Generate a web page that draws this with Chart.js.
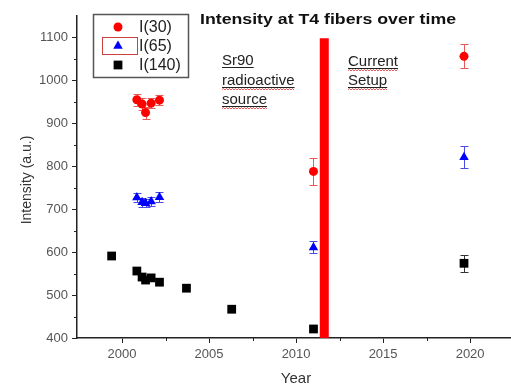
<!DOCTYPE html>
<html>
<head>
<meta charset="utf-8">
<script src="https://cdn.jsdelivr.net/npm/chart.js@4.4.1/dist/chart.umd.min.js"></script>
<style>
  html, body { margin: 0; padding: 0; background: #fff; }
</style>
</head>
<body>
<canvas id="chart" width="511" height="385"></canvas>
<script>
// ===== values
const years = [2000.85, 2001.15, 2001.35, 2001.67, 2002.15, 2011.0, 2019.65];
const i30 = [955, 945, 925, 947, 954, 788, 1056];
const i30Err = [14, 14, 14, 12, 12, 31, 28];
const i65 = [727, 716, 714, 718, 728, 611, 821];
const i65Err = [10, 10, 10, 10, 12, 14, 26];
const years140 = [1999.4, 2000.85, 2001.15, 2001.35, 2001.67, 2002.15, 2003.7, 2006.3, 2011.0, 2019.65];
const i140 = [591, 556, 542, 535, 540, 530, 516, 467, 421, 574];
const i140Err = [0, 0, 0, 0, 0, 0, 0, 0, 0, 20];

const xTicks = [2000, 2005, 2010, 2015, 2020];
const xMinor = [2002.5, 2007.5, 2012.5, 2017.5];
const yTicks = [400, 500, 600, 700, 800, 900, 1000, 1100];
const yMinor = [450, 550, 650, 750, 850, 950, 1050];

// red "setup change" marker
const setupYear = [2011.62, 2011.62];
const setupRange = [400, 1098];

const FONT = "'Liberation Sans', Arial, sans-serif";

const toPoints = (xs, ys) => xs.map((x, i) => ({ x: x, y: ys[i] }));

// ===== error bars, drawn under the markers
const errorBars = {
  id: 'errorBars',
  beforeDatasetsDraw(chart) {
    const { ctx, scales: { y } } = chart;
    chart.data.datasets.forEach((ds, i) => {
      if (!ds.errors) return;
      const meta = chart.getDatasetMeta(i);
      ctx.save();
      ctx.strokeStyle = ds.errorColor;
      ctx.lineWidth = 1;
      meta.data.forEach((pt, j) => {
        const e = ds.errors[j];
        if (!e) return;
        const v = ds.data[j].y;
        const top = Math.round(y.getPixelForValue(v + e)) + 0.5;
        const bot = Math.round(y.getPixelForValue(v - e)) + 0.5;
        const px = Math.round(pt.x) + 0.5;
        ctx.beginPath();
        ctx.moveTo(px, top); ctx.lineTo(px, bot);
        ctx.moveTo(px - 4, top); ctx.lineTo(px + 4, top);
        ctx.moveTo(px - 4, bot); ctx.lineTo(px + 4, bot);
        ctx.stroke();
      });
      ctx.restore();
    });
  }
};

// ===== minor ticks, legend, title and notes
function squiggle(ctx, x0, x1, yy) {
  ctx.save();
  ctx.strokeStyle = '#e03030';
  ctx.lineWidth = 0.8;
  ctx.beginPath();
  let up = true;
  ctx.moveTo(x0, yy);
  for (let x = x0 + 1.5; x <= x1; x += 1.5) {
    ctx.lineTo(x, up ? yy - 1 : yy + 0.5);
    up = !up;
  }
  ctx.stroke();
  ctx.restore();
}

function note(ctx, text, x, y, wavy) {
  ctx.fillText(text, x, y);
  const w = ctx.measureText(text).width;
  ctx.fillRect(x, y + 2, w, 1);
  if (wavy) squiggle(ctx, x, x + w, y + 4.5);
}

// text squeezed/stretched to a given width
function fitText(ctx, text, x, y, width) {
  const w = ctx.measureText(text).width;
  ctx.save();
  ctx.translate(x, y);
  ctx.scale(width / w, 1);
  ctx.fillText(text, 0, 0);
  ctx.restore();
}

const decorations = {
  id: 'decorations',
  afterDraw(chart) {
    const { ctx, scales: { x, y }, chartArea } = chart;
    ctx.save();

    // minor ticks
    ctx.strokeStyle = '#222';
    ctx.lineWidth = 1;
    ctx.beginPath();
    xMinor.forEach(v => {
      const px = Math.round(x.getPixelForValue(v)) + 0.5;
      ctx.moveTo(px, chartArea.bottom); ctx.lineTo(px, chartArea.bottom + 3);
    });
    yMinor.forEach(v => {
      const py = Math.round(y.getPixelForValue(v)) + 0.5;
      ctx.moveTo(chartArea.left, py); ctx.lineTo(chartArea.left - 3, py);
    });
    ctx.stroke();

    // title
    ctx.fillStyle = '#111';
    ctx.font = "bold 15px " + FONT;
    ctx.textAlign = 'left';
    ctx.textBaseline = 'alphabetic';
    fitText(ctx, 'Intensity at T4 fibers over time', 200, 24, 256);

    // axis titles
    ctx.fillStyle = '#333';
    ctx.font = "15px " + FONT;
    ctx.textAlign = 'center';
    ctx.fillText('Year', 296, 383);
    ctx.save();
    ctx.translate(27, 180);
    ctx.rotate(-Math.PI / 2);
    ctx.textBaseline = 'middle';
    ctx.font = "14px " + FONT;
    ctx.fillText('Intensity (a.u.)', 0, 0);
    ctx.restore();

    // legend
    ctx.strokeStyle = '#555';
    ctx.lineWidth = 1.5;
    ctx.strokeRect(93.5, 14.5, 95, 63);
    ctx.strokeStyle = '#d04040';
    ctx.lineWidth = 1;
    ctx.strokeRect(102.5, 37.5, 35, 17);
    const rows = [27, 46, 65];
    chart.data.datasets.slice(0, 3).forEach((ds, i) => {
      ctx.fillStyle = ds.backgroundColor;
      Chart.helpers.drawPoint(ctx, {
        pointStyle: ds.pointStyle, radius: ds.pointRadius, rotation: 0, borderWidth: 0
      }, 118, rows[i]);
      ctx.fillStyle = '#222';
      ctx.font = "16px " + FONT;
      ctx.textAlign = 'left';
      ctx.textBaseline = 'middle';
      ctx.fillText(ds.label, 139, rows[i] + 1);
    });

    // notes
    ctx.fillStyle = '#222';
    ctx.font = "15px " + FONT;
    ctx.textAlign = 'left';
    ctx.textBaseline = 'alphabetic';
    note(ctx, 'Sr90', 222, 65, false);
    note(ctx, 'radioactive', 222, 85, true);
    note(ctx, 'source', 222, 104, true);
    note(ctx, 'Current', 348, 66, true);
    note(ctx, 'Setup', 348, 85, true);

    ctx.restore();
  }
};

const ctx = document.getElementById('chart');
new Chart(ctx, {
  type: 'scatter',
  data: {
    datasets: [
      {
        label: 'I(30)',
        data: toPoints(years, i30),
        errors: i30Err,
        errorColor: '#e85a5a',
        pointStyle: 'circle',
        pointRadius: 4.5,
        backgroundColor: '#ff0000',
        borderWidth: 0
      },
      {
        label: 'I(65)',
        data: toPoints(years, i65),
        errors: i65Err,
        errorColor: '#4a4ae8',
        pointStyle: 'triangle',
        pointRadius: 5.5,
        backgroundColor: '#0000ff',
        borderWidth: 0
      },
      {
        label: 'I(140)',
        data: toPoints(years140, i140),
        errors: i140Err,
        errorColor: '#333',
        pointStyle: 'rect',
        pointRadius: 6.2,
        backgroundColor: '#000',
        borderWidth: 0
      },
      {
        type: 'line',
        label: 'setup',
        data: toPoints(setupYear, setupRange),
        borderColor: '#ff0000',
        borderWidth: 9,
        borderCapStyle: 'butt',
        pointRadius: 0,
        showLine: true
      }
    ]
  },
  options: {
    responsive: false,
    animation: false,
    layout: { autoPadding: false, padding: { top: 16, left: 0, right: 0, bottom: 0 } },
    plugins: {
      legend: { display: false },
      tooltip: { enabled: false },
      title: { display: false }
    },
    scales: {
      x: {
        type: 'linear',
        min: 1997.41,
        max: 2022.35,
        afterBuildTicks: s => { s.ticks = xTicks.map(v => ({ value: v })); },
        afterFit: s => { s.height = 47; },
        ticks: {
          callback: v => String(v),
          font: { family: FONT, size: 13 },
          color: '#555',
          padding: 4,
          maxRotation: 0,
          autoSkip: false
        },
        grid: { drawOnChartArea: false, tickLength: 5, color: '#222', tickWidth: 1 },
        border: { color: '#222', width: 1.5 }
      },
      y: {
        min: 400,
        max: 1150,
        afterBuildTicks: s => { s.ticks = yTicks.map(v => ({ value: v })); },
        afterFit: s => { s.width = 77; },
        ticks: {
          callback: v => String(v),
          font: { family: FONT, size: 13 },
          color: '#555',
          padding: 4,
          autoSkip: false
        },
        grid: { drawOnChartArea: false, tickLength: 5, color: '#222', tickWidth: 1 },
        border: { color: '#222', width: 1.5 }
      }
    }
  },
  plugins: [errorBars, decorations]
});
</script>
</body>
</html>
